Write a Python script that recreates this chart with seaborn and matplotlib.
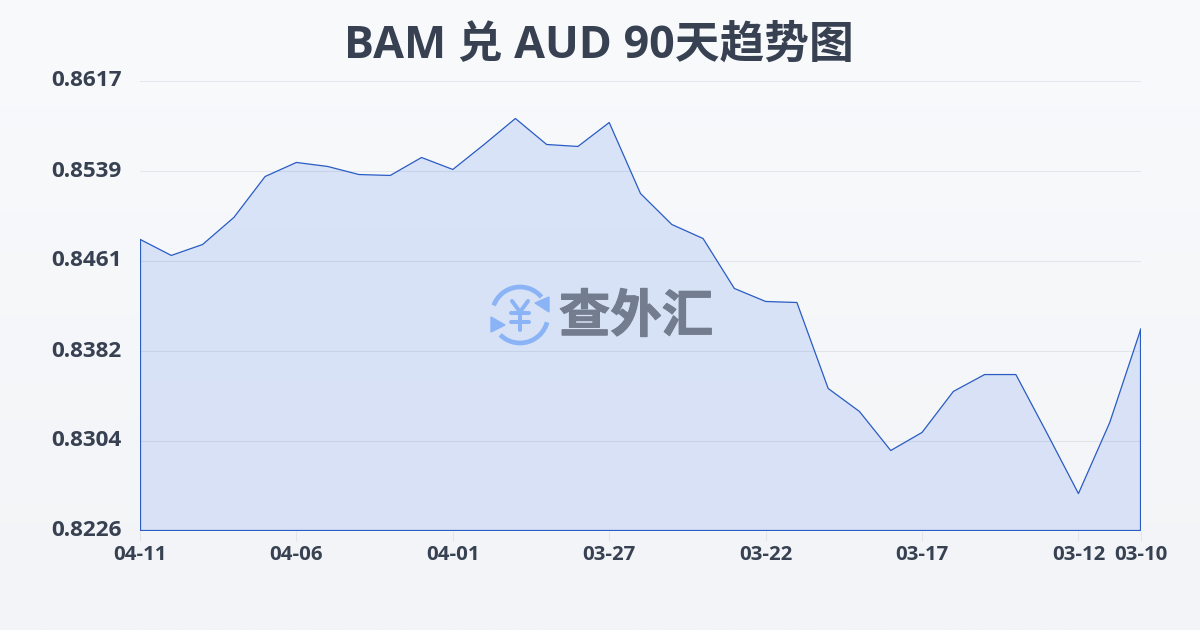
import numpy as np
import pandas as pd
import matplotlib
matplotlib.use('Agg')
import matplotlib.pyplot as plt
import matplotlib.patheffects as pe
from matplotlib.patches import Arc, Polygon
from matplotlib.transforms import ScaledTranslation
import seaborn as sns

title = 'BAM 兑 AUD 90天趋势图'
rates = [0.8479, 0.8465, 0.84745, 0.8498, 0.85336, 0.85458, 0.85423, 0.85353, 0.85345,
         0.85501, 0.85397, 0.85614, 0.8584, 0.85614, 0.85597, 0.85805, 0.85188, 0.84919,
         0.84797, 0.84363, 0.8425, 0.84241, 0.83494, 0.83294, 0.82955, 0.83112, 0.83468,
         0.83615, 0.83615, 0.83103, 0.82581, 0.83198, 0.84015]
x_tick_pos = [0, 5, 10, 15, 20, 25, 30, 32]
x_tick_labels = ['04-11', '04-06', '04-01', '03-27', '03-22', '03-17', '03-12', '03-10']
y_tick_labels = ['0.8617', '0.8539', '0.8461', '0.8382', '0.8304', '0.8226']
y_top = 0.8617
y_bottom = 0.8226

sns.set_theme(style='white')
fonts = ['Open Sans', 'Noto Sans CJK SC', 'DejaVu Sans']
plt.rcParams['font.family'] = fonts

text_color = '#374151'
line_color = '#2a5cc4'

df = pd.DataFrame({'day': np.arange(len(rates)), 'rate': rates})

fig = plt.figure(figsize=(12, 6.3), dpi=100)

# page background
bg = fig.add_axes([0, 0, 1, 1], zorder=0)
bg.imshow(np.linspace(0, 1, 256).reshape(-1, 1), aspect='auto', extent=(0, 1, 0, 1),
          cmap=matplotlib.colors.LinearSegmentedColormap.from_list('bg', ['#f9fafc', '#f2f4f7']))
bg.axis('off')

ax = fig.add_axes([140 / 1200, 1 - 530.5 / 630, 1001 / 1200, 450 / 630], zorder=1)
ax.patch.set_alpha(0)

ax.set_xlim(0, len(rates) - 1)
ax.set_ylim(y_bottom, y_top)

# filled area with a slight vertical gradient, clipped to the series
poly = ax.fill_between(df['day'], df['rate'], y_bottom, color='none', zorder=2)
grad = matplotlib.colors.LinearSegmentedColormap.from_list('fill', ['#d9e4f8', '#d8e1f5'])
im = ax.imshow(np.linspace(0, 1, 256).reshape(-1, 1), aspect='auto', cmap=grad,
               extent=(0, len(rates) - 1, y_bottom, y_top), zorder=2)
im.set_clip_path(poly.get_paths()[0], transform=ax.transData)
ax.set_xlim(0, len(rates) - 1)
ax.set_ylim(y_bottom, y_top)

sns.lineplot(data=df, x='day', y='rate', ax=ax, color=line_color, linewidth=0.9, zorder=4)
ax.vlines([0, len(rates) - 1], y_bottom, [rates[0], rates[-1]], color=line_color, linewidth=1.6, zorder=4)
ax.hlines(y_bottom, 0, len(rates) - 1, color=line_color, linewidth=1.6, zorder=4)

ax.set_xlabel('')
ax.set_ylabel('')
ax.set_yticks(np.linspace(y_top, y_bottom, len(y_tick_labels)))
ax.set_yticklabels(y_tick_labels, fontsize=16.2, fontweight='bold', color=text_color)
ax.set_xticks(x_tick_pos)
ax.set_xticklabels(x_tick_labels, fontsize=14.7, fontweight='bold', color=text_color)
ax.tick_params(axis='y', length=0, pad=13)
ax.tick_params(axis='x', bottom=True, length=7, width=0.8, color='#e2e5ea', pad=3.5)
ax.grid(axis='y', color='#1f3a66', alpha=0.09, linewidth=0.8)
ax.set_axisbelow(False)
for s in ax.spines.values():
    s.set_visible(False)
# y labels sit a little above their grid lines
up = ScaledTranslation(0, 2 / 100, fig.dpi_scale_trans)
for lab in ax.get_yticklabels():
    lab.set_transform(lab.get_transform() + up)

# overlay in pixel coordinates for title and watermark
ov = fig.add_axes([0, 0, 1, 1], zorder=5)
ov.set_xlim(0, 1200)
ov.set_ylim(630, 0)
ov.axis('off')
ov.text(599, 46, title, ha='center', va='center', fontsize=32.2, fontweight='bold', color=text_color)

# logo, y is inverted here so the arc angles run clockwise on screen
logo = '#8ab4f6'
ov.add_patch(Arc((520, 315), 56, 56, theta1=200, theta2=320, color=logo, lw=3.4))
ov.add_patch(Arc((520, 315), 56, 56, theta1=15, theta2=135, color=logo, lw=3.4))
ov.add_patch(Polygon([(549, 297), (549, 312), (535, 303)], color=logo))
ov.add_patch(Polygon([(491, 317), (491, 332), (505, 325)], color=logo))
for xs, ys in [([512, 520, 528], [301, 312, 301]), ([511, 529], [313, 313]),
               ([511, 529], [322, 322]), ([520, 520], [312, 330])]:
    ov.plot(xs, ys, color=logo, lw=2.9, solid_capstyle='round', solid_joinstyle='round')
ov.set_xlim(0, 1200)
ov.set_ylim(630, 0)
ov.text(636, 319, '查外汇', ha='center', va='center', fontsize=37, fontweight='bold', color='#737d8f',
        path_effects=[pe.withStroke(linewidth=0.8, foreground='#737d8f')])

fig.savefig('out.png', dpi=100)
